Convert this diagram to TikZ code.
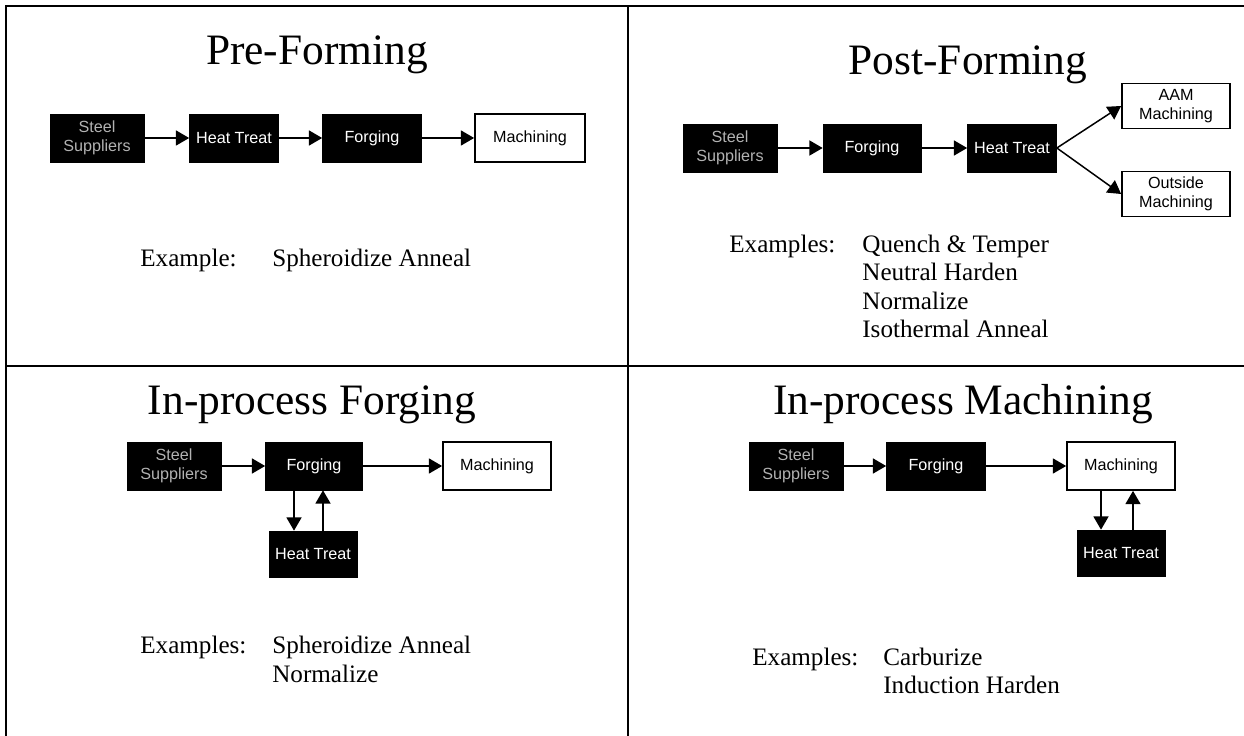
\documentclass[tikz,border=0pt]{standalone}
\usepackage{xcolor}
\usepackage{fontspec}
\setmainfont{Liberation Serif}
\newfontfamily\arialfont{Liberation Sans}
\usetikzlibrary{arrows.meta}

\newcommand{\titlefont}{\fontsize{24.7}{29}\selectfont}
\newcommand{\boxfont}{\arialfont\fontsize{9.2}{11}\selectfont}
\newcommand{\exfont}{\fontsize{14.3}{16}\selectfont}
\definecolor{steelgray}{gray}{0.7}

\begin{document}
\begin{tikzpicture}[x=0.02cm, y=-0.02cm,
    flow/.style={-{Triangle[length=7.5pt,width=8.5pt]}, line width=0.85pt},
    blackbox/.style={draw=black, fill=black, text=white, font=\boxfont, minimum height=0.96cm, inner sep=0pt, align=center},
    whitebox/.style={draw=black, line width=1pt, fill=white, text=black, font=\boxfont, minimum height=0.96cm, inner sep=0pt, align=center},
    heading/.style={font=\titlefont, anchor=base, inner sep=0pt},
    extext/.style={font=\exfont, anchor=base west, inner sep=0pt}]
    \useasboundingbox (0,0) rectangle (1244,736);

    % frame
    \draw[line width=1.1pt] (6,736) -- (6,6) -- (1244,6);
    \draw[line width=1.1pt] (628,6) -- (628,736);
    \draw[line width=1.1pt] (6,366) -- (1244,366);

    % pre-forming
    \node[heading] (atitle) at (317,65) {Pre-Forming};
    \node[blackbox, minimum width=1.88cm, text=steelgray] (asteel) at (97,138) {Steel\\Suppliers};
    \node[blackbox, minimum width=1.78cm] (aheat) at (234,138) {Heat Treat};
    \node[blackbox, minimum width=1.98cm] (aforge) at (372,138) {Forging};
    \node[whitebox, minimum width=2.2cm] (amach) at (530,138) {Machining};
    \draw[flow] (asteel) -- (aheat);
    \draw[flow] (aheat) -- (aforge);
    \draw[flow] (aforge) -- (amach);
    \node[extext] (aex) at (140,267) {Example:};
    \node[extext] (aexa) at (272,267) {Spheroidize Anneal};

    % post-forming
    \node[heading] (btitle) at (968,75) {Post-Forming};
    \node[blackbox, minimum width=1.88cm, text=steelgray] (bsteel) at (730,148) {Steel\\Suppliers};
    \node[blackbox, minimum width=1.96cm] (bforge) at (872,148) {Forging};
    \node[blackbox, minimum width=1.78cm] (bheat) at (1012,148) {Heat Treat};
    \node[whitebox, minimum width=2.16cm, minimum height=0.9cm] (baam) at (1176,106) {AAM\\Machining};
    \node[whitebox, minimum width=2.16cm, minimum height=0.9cm] (bout) at (1176,194) {Outside\\Machining};
    \draw[flow] (bsteel) -- (bforge);
    \draw[flow] (bforge) -- (bheat);
    \draw[flow] (bheat.east) -- (baam.west);
    \draw[flow] (bheat.east) -- (bout.west);
    \node[extext] (bex) at (729,253) {Examples:};
    \node[extext] (bexa) at (862,253) {Quench \& Temper};
    \node[extext] (bexb) at (862,281) {Neutral Harden};
    \node[extext] (bexc) at (862,310) {Normalize};
    \node[extext] (bexd) at (862,338) {Isothermal Anneal};

    % in-process forging
    \node[heading] (ctitle) at (312,415) {In-process Forging};
    \node[blackbox, minimum width=1.88cm, text=steelgray] (csteel) at (174,466) {Steel\\Suppliers};
    \node[blackbox, minimum width=1.94cm] (cforge) at (314,466) {Forging};
    \node[whitebox, minimum width=2.16cm] (cmach) at (497,466) {Machining};
    \node[blackbox, minimum width=1.76cm, minimum height=0.92cm] (cheat) at (313,554) {Heat Treat};
    \draw[flow] (csteel) -- (cforge);
    \draw[flow] (cforge) -- (cmach);
    \draw[flow] ([xshift=-0.4cm]cforge.south) -- ([xshift=-0.4cm]cforge.south |- cheat.north);
    \draw[flow] ([xshift=0.2cm]cheat.north) -- ([xshift=0.2cm]cheat.north |- cforge.south);
    \node[extext] (cex) at (140,653) {Examples:};
    \node[extext] (cexa) at (272,653) {Spheroidize Anneal};
    \node[extext] (cexb) at (272,682) {Normalize};

    % in-process machining
    \node[heading] (dtitle) at (963,415) {In-process Machining};
    \node[blackbox, minimum width=1.88cm, text=steelgray] (dsteel) at (796,466) {Steel\\Suppliers};
    \node[blackbox, minimum width=1.98cm] (dforge) at (936,466) {Forging};
    \node[whitebox, minimum width=2.16cm] (dmach) at (1121,466) {Machining};
    \node[blackbox, minimum width=1.76cm, minimum height=0.92cm] (dheat) at (1121,553) {Heat Treat};
    \draw[flow] (dsteel) -- (dforge);
    \draw[flow] (dforge) -- (dmach);
    \draw[flow] ([xshift=-0.4cm]dmach.south) -- ([xshift=-0.4cm]dmach.south |- dheat.north);
    \draw[flow] ([xshift=0.24cm]dheat.north) -- ([xshift=0.24cm]dheat.north |- dmach.south);
    \node[extext] (dex) at (752,665) {Examples:};
    \node[extext] (dexa) at (883,665) {Carburize};
    \node[extext] (dexb) at (883,693) {Induction Harden};
\end{tikzpicture}
\end{document}
